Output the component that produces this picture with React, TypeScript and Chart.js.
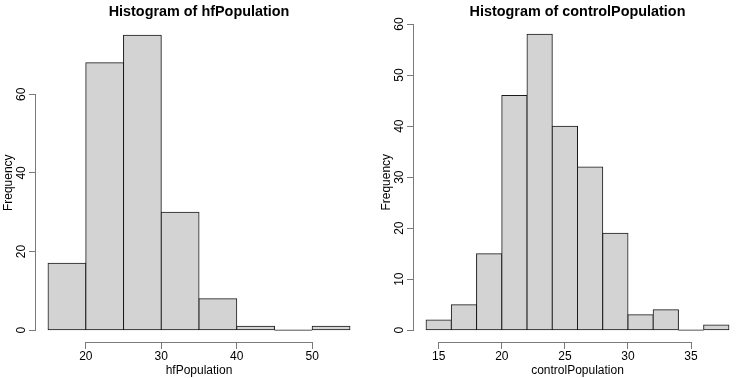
import React, { useEffect, useRef } from "react";
import { Chart, registerables } from "chart.js";

Chart.register(...registerables);

// ---- data ----
const hfBreaks = [15, 20, 25, 30, 35, 40, 45, 50, 55];
const hfCounts = [17, 68, 75, 30, 8, 1, 0, 1];
const hfXTicks = [20, 30, 40, 50];
const hfYTicks = [0, 20, 40, 60];

const ctrlBreaks = [14, 16, 18, 20, 22, 24, 26, 28, 30, 32, 34, 36, 38];
const ctrlCounts = [2, 5, 15, 46, 58, 40, 32, 19, 3, 4, 0, 1];
const ctrlXTicks = [15, 20, 25, 30, 35];
const ctrlYTicks = [0, 10, 20, 30, 40, 50, 60];

const FONT = "'Liberation Sans', Arial, Helvetica, sans-serif";
const AXIS_COLOR = "#7a7a7a";

type HistProps = {
  title: string;
  xLabel: string;
  breaks: number[];
  counts: number[];
  xTicks: number[];
  yTicks: number[];
  left: number;
  padRight: number;
  titlePadBottom: number;
};

function makeConfig(p: HistProps): any {
  const lo = p.breaks[0];
  const hi = p.breaks[p.breaks.length - 1];
  const xExt = (hi - lo) * 0.04;
  const yMax = Math.max(...p.counts);
  const yExt = yMax * 0.04;
  const points = p.counts.map((c, i) => ({ x: (p.breaks[i] + p.breaks[i + 1]) / 2, y: c }));

  const rAxes = {
    id: "rAxes",
    afterDraw(chart: any) {
      const ctx = chart.ctx;
      const xs = chart.scales.x;
      const ys = chart.scales.y;
      ctx.save();
      ctx.strokeStyle = AXIS_COLOR;
      ctx.lineWidth = 1;
      ctx.beginPath();
      const yLine = Math.round(xs.top) + 0.5;
      ctx.moveTo(xs.getPixelForValue(p.xTicks[0]), yLine);
      ctx.lineTo(xs.getPixelForValue(p.xTicks[p.xTicks.length - 1]), yLine);
      const xLine = Math.round(ys.right) - 0.5;
      ctx.moveTo(xLine, ys.getPixelForValue(p.yTicks[0]));
      ctx.lineTo(xLine, ys.getPixelForValue(p.yTicks[p.yTicks.length - 1]));
      ctx.stroke();
      ctx.restore();
    },
    afterDatasetsDraw(chart: any) {
      const ctx = chart.ctx;
      const meta = chart.getDatasetMeta(0);
      ctx.save();
      ctx.strokeStyle = "#555";
      ctx.lineWidth = 1;
      meta.data.forEach((el: any, i: number) => {
        if (p.counts[i] === 0) {
          const { x, width, base } = el.getProps(["x", "width", "base"], true);
          ctx.beginPath();
          ctx.moveTo(x - width / 2, base);
          ctx.lineTo(x + width / 2, base);
          ctx.stroke();
        }
      });
      ctx.restore();
    },
  };

  return {
    type: "bar",
    data: {
      datasets: [
        {
          data: points,
          backgroundColor: "#D3D3D3",
          borderColor: "#1a1a1a",
          borderWidth: 1,
          borderSkipped: false,
          inflateAmount: 0.5,
          barPercentage: 1,
          categoryPercentage: 1,
        },
      ],
    },
    options: {
      responsive: false,
      animation: false,
      devicePixelRatio: 1,
      layout: { padding: { left: 0, right: p.padRight, top: 0, bottom: 0 } },
      plugins: {
        legend: { display: false },
        tooltip: { enabled: false },
        title: {
          display: true,
          text: p.title,
          fullSize: false,
          color: "#000",
          font: { family: FONT, size: 14.4, weight: "bold", lineHeight: 1.2 },
          padding: { top: 3.6, bottom: p.titlePadBottom },
        },
      },
      scales: {
        x: {
          type: "linear",
          min: lo - xExt,
          max: hi + xExt,
          offset: false,
          afterBuildTicks: (s: any) => {
            s.ticks = p.xTicks.map((v) => ({ value: v }));
          },
          afterFit: (s: any) => {
            s.height = 36;
          },
          grid: {
            offset: false,
            drawOnChartArea: false,
            drawTicks: true,
            tickLength: 7,
            tickColor: AXIS_COLOR,
            tickWidth: 1,
          },
          border: { display: false },
          ticks: {
            autoSkip: false,
            maxRotation: 0,
            minRotation: 0,
            padding: 0.5,
            color: "#000",
            font: { family: FONT, size: 12 },
          },
          title: {
            display: true,
            text: p.xLabel,
            color: "#000",
            font: { family: FONT, size: 12 },
            padding: { top: 0, bottom: 0 },
          },
        },
        y: {
          type: "linear",
          min: -yExt,
          max: yMax + yExt,
          afterBuildTicks: (s: any) => {
            s.ticks = p.yTicks.map((v) => ({ value: v }));
          },
          afterFit: (s: any) => {
            s.width = 36;
          },
          grid: {
            drawOnChartArea: false,
            drawTicks: true,
            tickLength: 7,
            tickColor: AXIS_COLOR,
            tickWidth: 1,
          },
          border: { display: false },
          ticks: {
            autoSkip: false,
            minRotation: 90,
            maxRotation: 90,
            crossAlign: "center",
            padding: 0.6,
            color: "#000",
            font: { family: FONT, size: 12 },
          },
          title: {
            display: true,
            text: "Frequency",
            color: "#000",
            font: { family: FONT, size: 12 },
            padding: { top: 1.8, bottom: 0 },
          },
        },
      },
    },
    plugins: [rAxes],
  };
}

function Hist(props: HistProps) {
  const ref = useRef<HTMLCanvasElement>(null);
  useEffect(() => {
    const chart = new Chart(ref.current as HTMLCanvasElement, makeConfig(props));
    return () => chart.destroy();
  }, []);
  return (
    <canvas
      ref={ref}
      width={378}
      height={378}
      style={{ position: "absolute", left: props.left, top: 0, width: 378, height: 378 }}
    />
  );
}

export default function App() {
  return (
    <div style={{ position: "absolute", left: 0, top: 0, width: 756, height: 378, background: "#fff" }}>
      <Hist
        title="Histogram of hfPopulation"
        xLabel="hfPopulation"
        breaks={hfBreaks}
        counts={hfCounts}
        xTicks={hfXTicks}
        yTicks={hfYTicks}
        left={0}
        padRight={16}
        titlePadBottom={2.6}
      />
      <Hist
        title="Histogram of controlPopulation"
        xLabel="controlPopulation"
        breaks={ctrlBreaks}
        counts={ctrlCounts}
        xTicks={ctrlXTicks}
        yTicks={ctrlYTicks}
        left={378}
        padRight={15}
        titlePadBottom={1.6}
      />
    </div>
  );
}
